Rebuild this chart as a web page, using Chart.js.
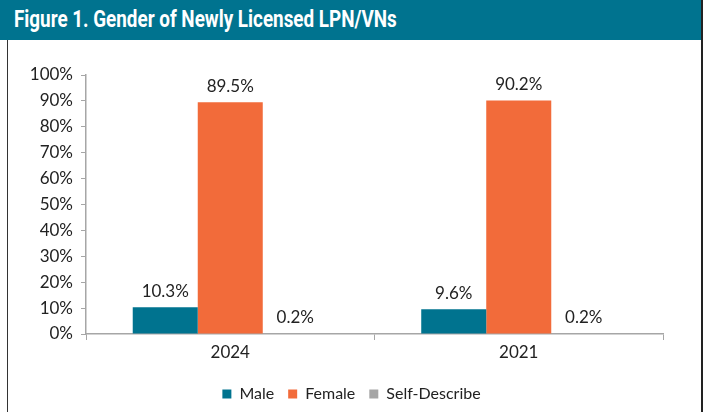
<!DOCTYPE html>
<html>
<head>
<meta charset="utf-8">
<script src="https://cdn.jsdelivr.net/npm/chart.js@4.4.1/dist/chart.umd.min.js"></script>
<style>
  body { margin: 0; background: #fff; }
  #frame { position: absolute; left: 0; top: 0; width: 703px; height: 412px; overflow: hidden; }
  #header {
    position: absolute; left: 0; top: 0; width: 702px; height: 40px;
    background: #00738f; color: #fff;
    font-family: "Liberation Sans Narrow", "Roboto", sans-serif; font-weight: bold;
    font-size: 23px; line-height: 40px; padding-left: 14px; box-sizing: border-box;
    white-space: nowrap;
  }
  #header span { display: inline-block; transform: scaleX(0.82); transform-origin: left center; }
  #lborder { position: absolute; left: 7px; top: 40px; width: 1px; height: 372px; background: #333; }
  #rborder { position: absolute; left: 701px; top: 0; width: 2px; height: 412px; background: #222; }
  #wrap { position: absolute; left: 0; top: 40px; width: 703px; height: 372px; }
</style>
</head>
<body>
<div id="frame">
  <div id="wrap"><canvas id="chart"></canvas></div>
  <div id="header"><span>Figure 1. Gender of Newly Licensed LPN/VNs</span></div>
  <div id="lborder"></div>
  <div id="rborder"></div>
</div>
<script>
// data
const years = ['2024', '2021'];
const male = [10.3, 9.6];
const female = [89.5, 90.2];
const selfDescribe = [0.2, 0.2];

const FONT = 'Lato, sans-serif';

// draws the value above each bar
const valueLabels = {
  id: 'valueLabels',
  afterDatasetsDraw(chart) {
    const ctx = chart.ctx;
    ctx.save();
    ctx.font = '17px ' + FONT;
    ctx.fillStyle = '#222';
    ctx.textAlign = 'center';
    ctx.textBaseline = 'alphabetic';
    chart.data.datasets.forEach((ds, i) => {
      chart.getDatasetMeta(i).data.forEach((bar, j) => {
        ctx.fillText(ds.data[j].toFixed(1) + '%', bar.x, bar.y - 10);
      });
    });
    ctx.restore();
  }
};

const ctx = document.getElementById('chart').getContext('2d');
new Chart(ctx, {
  type: 'bar',
  data: {
    labels: years,
    datasets: [
      { label: 'Male', data: male, backgroundColor: '#00738f' },
      { label: 'Female', data: female, backgroundColor: '#f26b3a' },
      { label: 'Self-Describe', data: selfDescribe, backgroundColor: '#a5a5a5' }
    ]
  },
  options: {
    animation: false,
    responsive: true,
    maintainAspectRatio: false,
    layout: { padding: { top: 35, right: 0, left: 0, bottom: 0 } },
    datasets: { bar: { categoryPercentage: 0.676, barPercentage: 1.0 } },
    plugins: {
      tooltip: { enabled: false },
      legend: {
        position: 'bottom',
        labels: {
          boxWidth: 9, boxHeight: 9, color: '#222',
          font: { family: FONT, size: 16 }, padding: 14
        }
      }
    },
    scales: {
      x: {
        grid: { drawOnChartArea: false, tickLength: 6, color: '#a6a6a6' },
        border: { color: '#a6a6a6', width: 1.5 },
        ticks: { color: '#222', font: { family: FONT, size: 17 }, padding: 2 },
        afterFit(scale) { scale.height = 38; }
      },
      y: {
        min: 0, max: 100,
        grid: { drawOnChartArea: false, tickLength: 5, color: '#a6a6a6' },
        border: { color: '#a6a6a6', width: 1.5 },
        ticks: { stepSize: 10, color: '#222', font: { family: FONT, size: 17 }, padding: 8,
                 callback: v => v + '%' },
        afterFit(scale) { scale.width = 86; }
      },
      // empty right-hand axis, only keeps space on the right so the legend stays centred
      yRight: {
        position: 'right', min: 0, max: 100,
        grid: { display: false }, border: { display: false }, ticks: { display: false },
        afterFit(scale) { scale.width = 40; }
      }
    }
  },
  plugins: [valueLabels]
});
</script>
</body>
</html>
